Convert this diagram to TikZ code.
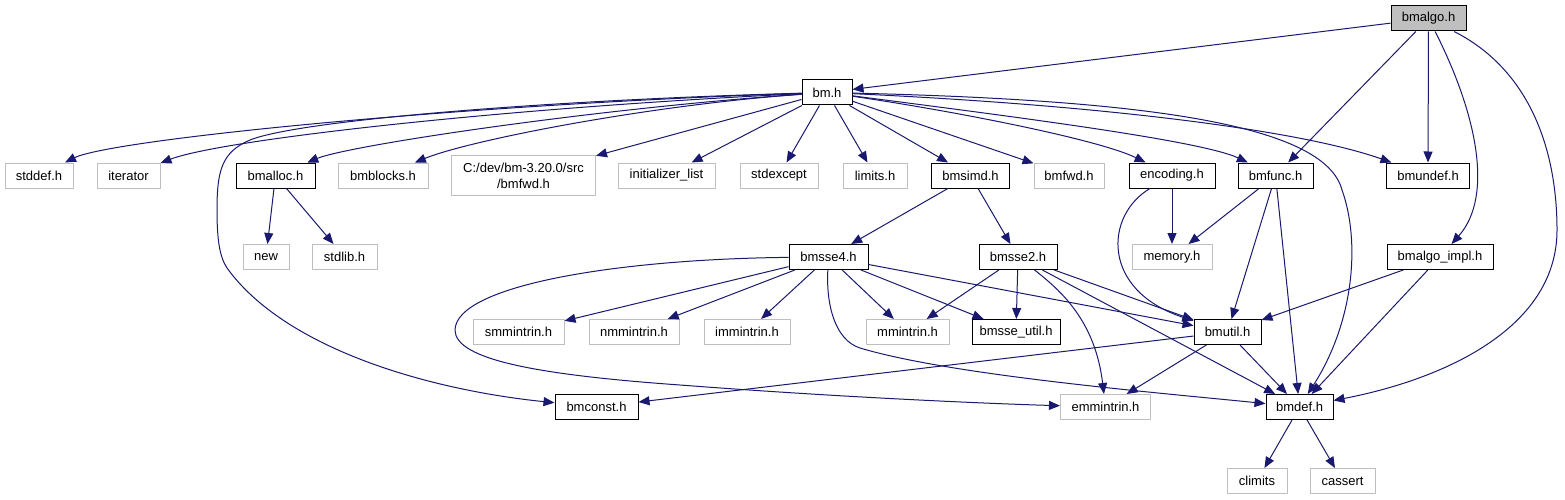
\documentclass[tikz,border=0pt]{standalone}
\usepackage{fontspec}
\setmainfont{Liberation Sans}
\usetikzlibrary{arrows.meta}
\definecolor{edgeblue}{HTML}{191970}
\definecolor{sysgray}{HTML}{BFBFBF}
\tikzset{
  hdr/.style={draw=black, line width=1pt, fill=white, minimum height=25,
    inner sep=0pt, font=\fontsize{13}{16}\selectfont},
  syshdr/.style={hdr, draw=sysgray},
  dep/.style={draw=edgeblue, line width=1pt, -{Triangle[length=11pt,width=9pt]}},
}

\begin{document}
\begin{tikzpicture}[x=1pt, y=-1pt]
\useasboundingbox[fill=white] (0,0) rectangle (1565,500);
% Top headers
\node[hdr, fill=sysgray, minimum width=75] (bmalgo) at (1428.5,18.5) {bmalgo.h};
\node[hdr, minimum width=50] (bm) at (827,92.5) {bm.h};
% Row of bm.h includes
\node[syshdr, minimum width=68] (stddef) at (39,175.5) {stddef.h};
\node[syshdr, minimum width=63] (iterator) at (128.5,175.5) {iterator};
\node[hdr, minimum width=79] (bmalloc) at (275.5,175.5) {bmalloc.h};
\node[syshdr, minimum width=90] (bmblocks) at (383,175.5) {bmblocks.h};
\node[syshdr, minimum width=144, minimum height=40, align=center] (cdev) at (523.5,175.5) {C:/dev/bm-3.20.0/src\\/bmfwd.h};
\node[syshdr, minimum width=97] (initlist) at (666.5,175.5) {initializer\_list};
\node[syshdr, minimum width=78] (stdexcept) at (779,175.5) {stdexcept};
\node[syshdr, minimum width=64] (limits) at (875,175.5) {limits.h};
\node[hdr, minimum width=78] (bmsimd) at (970.5,175.5) {bmsimd.h};
\node[syshdr, minimum width=70] (bmfwd) at (1069,175.5) {bmfwd.h};
\node[hdr, minimum width=86] (encoding) at (1172,175.5) {encoding.h};
\node[hdr, minimum width=75] (bmfunc) at (1275.5,175.5) {bmfunc.h};
\node[hdr, minimum width=83] (bmundef) at (1428,175.5) {bmundef.h};
% Third row
\node[syshdr, minimum width=46] (new) at (266,257) {new};
\node[syshdr, minimum width=65] (stdlib) at (344.5,257) {stdlib.h};
\node[hdr, minimum width=79] (bmssefour) at (828.5,257) {bmsse4.h};
\node[hdr, minimum width=78] (bmssetwo) at (1018,257) {bmsse2.h};
\node[syshdr, minimum width=80] (memory) at (1172,257) {memory.h};
\node[hdr, minimum width=106] (bmalgoimpl) at (1440,257) {bmalgo\_impl.h};
% Intrinsics row
\node[syshdr, minimum width=91] (smm) at (518.5,332) {smmintrin.h};
\node[syshdr, minimum width=90] (nmm) at (634,332) {nmmintrin.h};
\node[syshdr, minimum width=86] (imm) at (747,332) {immintrin.h};
\node[syshdr, minimum width=83] (mmi) at (907.5,332) {mmintrin.h};
\node[hdr, minimum width=88] (bmsseutil) at (1016,332) {bmsse\_util.h};
\node[hdr, minimum width=67] (bmutil) at (1227.5,332) {bmutil.h};
% Lower rows
\node[hdr, minimum width=83] (bmconst) at (596.5,407) {bmconst.h};
\node[syshdr, minimum width=90] (emm) at (1105.5,407) {emmintrin.h};
\node[hdr, minimum width=67] (bmdef) at (1299.5,407) {bmdef.h};
\node[syshdr, minimum width=60] (climits) at (1257,481) {climits};
\node[syshdr, minimum width=65] (cassert) at (1342.5,481) {cassert};

% bmalgo.h includes
\draw[dep] (bmalgo) -- (bm);
\draw[dep] (bmalgo) -- (bmfunc);
\draw[dep] (bmalgo) -- (bmundef);
\draw[dep] (bmalgo) .. controls (1475,110) and (1495,195) .. (bmalgoimpl);
\draw[dep] (bmalgo) .. controls (1530,70) and (1557,150) .. (1557,230)
  .. controls (1557,330) and (1440,380) .. (bmdef);
% bm.h includes
\draw[dep] (bm) .. controls (450,105) and (110,140) .. (stddef);
\draw[dep] (bm) .. controls (500,108) and (220,140) .. (iterator);
\draw[dep] (bm) .. controls (600,108) and (350,145) .. (bmalloc);
\draw[dep] (bm) .. controls (650,105) and (470,140) .. (bmblocks);
\draw[dep] (bm) -- (cdev);
\draw[dep] (bm) -- (initlist);
\draw[dep] (bm) -- (stdexcept);
\draw[dep] (bm) -- (limits);
\draw[dep] (bm) -- (bmsimd);
\draw[dep] (bm) -- (bmfwd);
\draw[dep] (bm) .. controls (960,112) and (1100,140) .. (encoding);
\draw[dep] (bm) .. controls (1000,115) and (1200,140) .. (bmfunc);
\draw[dep] (bm) .. controls (1100,105) and (1300,130) .. (bmundef);
\draw[dep] (bm) .. controls (1150,100) and (1325,125) .. (1342,190)
  .. controls (1360,240) and (1355,320) .. (bmdef);
\draw[dep] (bm) .. controls (550,100) and (300,120) .. (250,140)
  .. controls (222,152) and (217,170) .. (217,210)
  .. controls (217,250) and (222,262) .. (230,272)
  .. controls (290,350) and (430,390) .. (bmconst);
% second level
\draw[dep] (bmalloc) -- (new);
\draw[dep] (bmalloc) -- (stdlib);
\draw[dep] (bmsimd) -- (bmssefour);
\draw[dep] (bmsimd) -- (bmssetwo);
\draw[dep] (encoding) -- (memory);
\draw[dep] (encoding) .. controls (1105,215) and (1100,290) .. (bmutil);
\draw[dep] (bmfunc) -- (memory);
\draw[dep] (bmfunc) -- (bmutil);
\draw[dep] (bmfunc) -- (bmdef);
\draw[dep] (bmalgoimpl) -- (bmutil);
\draw[dep] (bmalgoimpl) -- (bmdef);
% bmsse4.h
\draw[dep] (bmssefour) -- (smm);
\draw[dep] (bmssefour) -- (nmm);
\draw[dep] (bmssefour) -- (imm);
\draw[dep] (bmssefour) -- (mmi);
\draw[dep] (bmssefour) -- (bmsseutil);
\draw[dep] (bmssefour) -- (bmutil);
\draw[dep] (bmssefour) .. controls (620,259) and (456,285) .. (455,330)
  .. controls (455,360) and (540,375) .. (680,385)
  .. controls (850,398) and (1000,404) .. (emm);
\draw[dep] (bmssefour) .. controls (826,305) and (835,340) .. (860,348)
  .. controls (950,375) and (1150,392) .. (bmdef);
% bmsse2.h
\draw[dep] (bmssetwo) -- (mmi);
\draw[dep] (bmssetwo) -- (bmsseutil);
\draw[dep] (bmssetwo) -- (bmutil);
\draw[dep] (bmssetwo) -- (bmdef);
\draw[dep] (bmssetwo) .. controls (1060,290) and (1095,320) .. (emm);
% bmutil.h and bmdef.h
\draw[dep] (bmutil) -- (bmconst);
\draw[dep] (bmutil) -- (emm);
\draw[dep] (bmutil) -- (bmdef);
\draw[dep] (bmdef) -- (climits);
\draw[dep] (bmdef) -- (cassert);
\end{tikzpicture}
\end{document}
